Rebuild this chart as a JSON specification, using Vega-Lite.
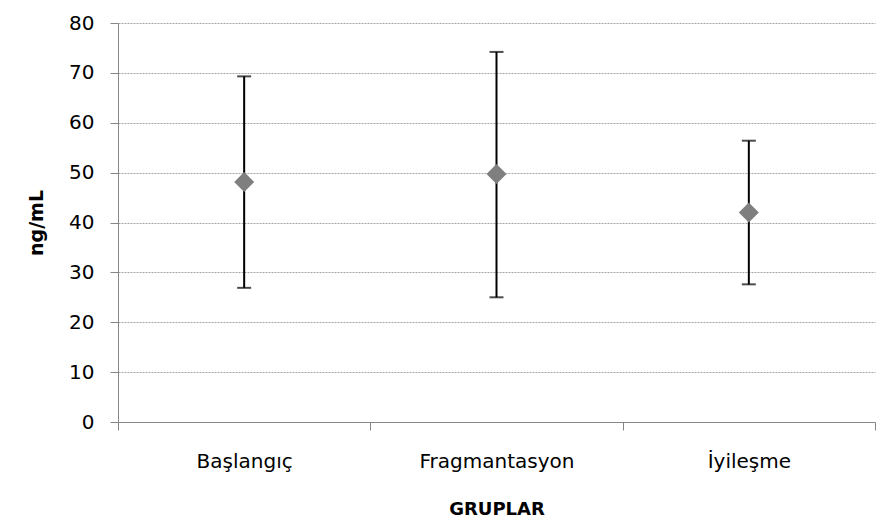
{
  "$schema": "https://vega.github.io/schema/vega-lite/v6.json",
  "width": 757,
  "height": 399,
  "autosize": {"type": "none"},
  "padding": {"left": 118, "top": 23, "right": 12, "bottom": 106},
  "background": "white",
  "config": {
    "view": {"stroke": null},
    "font": "DejaVu Sans"
  },
  "data": {
    "values": [
      {"grup": "Başlangıç", "mean": 48.1, "low": 26.9, "high": 69.3},
      {"grup": "Fragmantasyon", "mean": 49.7, "low": 25.0, "high": 74.2},
      {"grup": "İyileşme", "mean": 42.0, "low": 27.6, "high": 56.4}
    ]
  },
  "encoding": {
    "x": {
      "field": "grup",
      "type": "nominal",
      "sort": null,
      "scale": {"paddingInner": 0, "paddingOuter": 0},
      "axis": {
        "title": "GRUPLAR",
        "titleFont": "DejaVu Sans",
        "titleFontSize": 18,
        "titleFontWeight": "bold",
        "titleColor": "black",
        "titlePadding": 29,
        "labelAngle": 0,
        "labelFont": "DejaVu Sans",
        "labelFontSize": 20,
        "labelColor": "black",
        "labelPadding": 21,
        "tickBand": "extent",
        "tickSize": 8,
        "tickColor": "#868686",
        "domainColor": "#868686",
        "grid": false
      }
    }
  },
  "layer": [
    {
      "mark": {"type": "rule", "color": "black", "strokeWidth": 2},
      "encoding": {
        "y": {
          "field": "low",
          "type": "quantitative",
          "scale": {"domain": [0, 80]},
          "axis": {
            "title": "ng/mL",
            "titleFont": "DejaVu Sans",
            "titleFontSize": 19,
            "titleFontWeight": "bold",
            "titleColor": "black",
            "titlePadding": 22,
            "labelFont": "DejaVu Sans",
            "labelFontSize": 20,
            "labelColor": "black",
            "labelPadding": 16,
            "values": [0, 10, 20, 30, 40, 50, 60, 70, 80],
            "tickSize": 8,
            "tickColor": "#868686",
            "domainColor": "#868686",
            "gridColor": "#a6a6a6",
            "gridDash": [2, 1],
            "gridWidth": 1
          }
        },
        "y2": {"field": "high"}
      }
    },
    {
      "mark": {"type": "tick", "color": "black", "size": 14, "thickness": 2, "orient": "horizontal"},
      "encoding": {"y": {"field": "low", "type": "quantitative"}}
    },
    {
      "mark": {"type": "tick", "color": "black", "size": 14, "thickness": 2, "orient": "horizontal"},
      "encoding": {"y": {"field": "high", "type": "quantitative"}}
    },
    {
      "mark": {"type": "point", "shape": "diamond", "filled": true, "color": "#7f7f7f", "size": 400, "opacity": 1},
      "encoding": {"y": {"field": "mean", "type": "quantitative"}}
    }
  ]
}
